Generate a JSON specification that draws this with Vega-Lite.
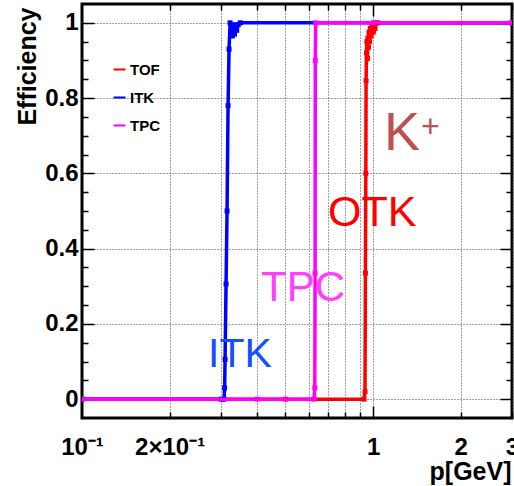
{
  "$schema": "https://vega.github.io/schema/vega-lite/v6.json",
  "autosize": {"type": "none"},
  "padding": {"left": 82, "top": 4, "right": 2, "bottom": 68},
  "width": 430,
  "height": 414,
  "config": {
    "view": {"stroke": "black", "strokeWidth": 3},
    "font": "Liberation Sans"
  },
  "datasets": {
    "tof": [
      {"det": "TOF", "p": 0.1, "eff": 0}, {"det": "TOF", "p": 0.5, "eff": 0}, {"det": "TOF", "p": 0.931, "eff": 0},
      {"det": "TOF", "p": 0.938, "eff": 0.02}, {"det": "TOF", "p": 0.941, "eff": 0.335}, {"det": "TOF", "p": 0.944, "eff": 0.6},
      {"det": "TOF", "p": 0.946, "eff": 0.846}, {"det": "TOF", "p": 0.949, "eff": 0.92}, {"det": "TOF", "p": 0.952, "eff": 0.95},
      {"det": "TOF", "p": 0.956, "eff": 0.905}, {"det": "TOF", "p": 0.96, "eff": 0.96}, {"det": "TOF", "p": 0.964, "eff": 0.935},
      {"det": "TOF", "p": 0.968, "eff": 0.975}, {"det": "TOF", "p": 0.973, "eff": 0.95}, {"det": "TOF", "p": 0.978, "eff": 0.985},
      {"det": "TOF", "p": 0.984, "eff": 0.965}, {"det": "TOF", "p": 0.99, "eff": 0.99}, {"det": "TOF", "p": 0.997, "eff": 0.975},
      {"det": "TOF", "p": 1.005, "eff": 0.995}, {"det": "TOF", "p": 1.015, "eff": 0.985}, {"det": "TOF", "p": 1.025, "eff": 1},
      {"det": "TOF", "p": 1.04, "eff": 1}, {"det": "TOF", "p": 3, "eff": 1}
    ],
    "itk": [
      {"det": "ITK", "p": 0.1, "eff": 0}, {"det": "ITK", "p": 0.3, "eff": 0}, {"det": "ITK", "p": 0.3077, "eff": 0},
      {"det": "ITK", "p": 0.309, "eff": 0.03}, {"det": "ITK", "p": 0.3101, "eff": 0.106}, {"det": "ITK", "p": 0.3125, "eff": 0.306},
      {"det": "ITK", "p": 0.315, "eff": 0.5}, {"det": "ITK", "p": 0.3175, "eff": 0.78}, {"det": "ITK", "p": 0.32, "eff": 0.93},
      {"det": "ITK", "p": 0.3226, "eff": 1.0}, {"det": "ITK", "p": 0.3245, "eff": 0.975}, {"det": "ITK", "p": 0.3265, "eff": 0.995},
      {"det": "ITK", "p": 0.3285, "eff": 0.965}, {"det": "ITK", "p": 0.331, "eff": 0.99}, {"det": "ITK", "p": 0.334, "eff": 0.97},
      {"det": "ITK", "p": 0.337, "eff": 0.995}, {"det": "ITK", "p": 0.34, "eff": 0.98}, {"det": "ITK", "p": 0.344, "eff": 0.995},
      {"det": "ITK", "p": 0.35, "eff": 1}, {"det": "ITK", "p": 3, "eff": 1}
    ],
    "tpc": [
      {"det": "TPC", "p": 0.1, "eff": 0}, {"det": "TPC", "p": 0.4, "eff": 0}, {"det": "TPC", "p": 0.627, "eff": 0},
      {"det": "TPC", "p": 0.6305, "eff": 0.03}, {"det": "TPC", "p": 0.632, "eff": 0.335}, {"det": "TPC", "p": 0.633, "eff": 0.9},
      {"det": "TPC", "p": 0.635, "eff": 1}, {"det": "TPC", "p": 1, "eff": 1}, {"det": "TPC", "p": 3, "eff": 1}
    ]
  },
  "resolve": {"axis": {"x": "independent", "y": "independent"}},
  "layer": [
    {
      "data": {"name": "tof"},
      "mark": {"type": "line", "strokeWidth": 3.5, "clip": true, "point": {"shape": "square", "filled": true, "size": 25}},
      "encoding": {
        "x": {"field": "p", "type": "quantitative",
          "scale": {"type": "log", "domain": [0.1, 3], "nice": false, "zero": false},
          "axis": {"orient": "bottom", "values": [0.1, 0.2, 1, 2, 3], "ticks": false, "grid": false, "domain": false,
            "labelExpr": "datum.value == 0.1 ? '10⁻¹' : datum.value == 0.2 ? '2×10⁻¹' : toString(datum.value)",
            "labelFlush": false, "labelOverlap": false, "labelPadding": 17, "labelBaseline": "top",
            "labelFont": "Liberation Sans", "labelFontWeight": "bold", "labelFontSize": 24, "labelColor": "black",
            "title": "p[GeV]", "titleFont": "Liberation Sans", "titleFontWeight": "bold", "titleFontSize": 25, "titleColor": "black",
            "titleAlign": "right", "titleBaseline": "alphabetic", "titleX": 429, "titleY": 61, "titleAngle": 0}},
        "y": {"field": "eff", "type": "quantitative",
          "scale": {"domain": [-0.05, 1.05], "nice": false, "zero": false},
          "axis": {"orient": "left", "values": [0, 0.2, 0.4, 0.6, 0.8, 1], "ticks": false, "grid": false, "domain": false,
            "format": ".1~f", "labelPadding": 4,
            "labelFont": "Liberation Sans", "labelFontWeight": "bold", "labelFontSize": 24, "labelColor": "black",
            "title": "Efficiency", "titleFont": "Liberation Sans", "titleFontWeight": "bold", "titleFontSize": 25, "titleColor": "black",
            "titleAngle": -90, "titleAlign": "right", "titleBaseline": "alphabetic", "titleX": -47, "titleY": 3}},
        "color": {"field": "det", "type": "nominal",
          "scale": {"domain": ["TOF", "ITK", "TPC"], "range": ["#ff0000", "#0000ff", "#ff00ff"]},
          "legend": {"orient": "none", "legendX": 30, "legendY": 58, "title": null, "padding": 0,
            "symbolType": "stroke", "symbolSize": 144, "symbolStrokeWidth": 2, "labelOffset": 3, "rowPadding": 12,
            "labelFont": "Liberation Sans", "labelFontWeight": "bold", "labelFontSize": 15, "labelColor": "black"}}
      }
    },
    {
      "data": {"name": "itk"},
      "mark": {"type": "line", "strokeWidth": 3.5, "clip": true, "point": {"shape": "square", "filled": true, "size": 25}},
      "encoding": {
        "x": {"field": "p", "type": "quantitative",
          "axis": {"orient": "bottom", "values": [0.2, 0.3, 0.4, 0.5, 0.6, 0.7, 0.8, 0.9, 1, 2, 3], "labels": false, "domain": false, "title": null,
            "tickSize": {"condition": {"test": "datum.value == 1", "value": -12}, "value": -6}, "tickColor": "black", "tickWidth": 1.5,
            "grid": true, "gridDash": [1, 2], "gridColor": "#444", "gridWidth": 1}},
        "y": {"field": "eff", "type": "quantitative",
          "axis": {"orient": "left", "values": [0, 0.05, 0.1, 0.15, 0.2, 0.25, 0.3, 0.35, 0.4, 0.45, 0.5, 0.55, 0.6, 0.65, 0.7, 0.75, 0.8, 0.85, 0.9, 0.95, 1],
            "labels": false, "domain": false, "title": null,
            "tickSize": {"condition": {"test": "datum.value == 0 || datum.value == 0.2 || datum.value == 0.4 || datum.value == 0.6 || datum.value == 0.8 || datum.value == 1", "value": -12}, "value": -6},
            "tickColor": "black", "tickWidth": 1.5,
            "grid": true, "gridDash": [1, 2], "gridColor": "#444", "gridWidth": 1,
            "gridOpacity": {"condition": {"test": "datum.value == 0 || datum.value == 0.2 || datum.value == 0.4 || datum.value == 0.6 || datum.value == 0.8 || datum.value == 1", "value": 1}, "value": 0}}},
        "color": {"field": "det", "type": "nominal"}
      }
    },
    {
      "data": {"name": "tpc"},
      "mark": {"type": "line", "strokeWidth": 3.5, "clip": true, "point": {"shape": "square", "filled": true, "size": 25}},
      "encoding": {
        "x": {"field": "p", "type": "quantitative",
          "axis": {"orient": "top", "values": [0.2, 0.3, 0.4, 0.5, 0.6, 0.7, 0.8, 0.9, 1, 2, 3], "labels": false, "domain": false, "title": null, "grid": false,
            "tickSize": {"condition": {"test": "datum.value == 1", "value": -12}, "value": -6}, "tickColor": "black", "tickWidth": 1.5}},
        "y": {"field": "eff", "type": "quantitative",
          "axis": {"orient": "right", "values": [0, 0.05, 0.1, 0.15, 0.2, 0.25, 0.3, 0.35, 0.4, 0.45, 0.5, 0.55, 0.6, 0.65, 0.7, 0.75, 0.8, 0.85, 0.9, 0.95, 1],
            "labels": false, "domain": false, "title": null, "grid": false,
            "tickSize": {"condition": {"test": "datum.value == 0 || datum.value == 0.2 || datum.value == 0.4 || datum.value == 0.6 || datum.value == 0.8 || datum.value == 1", "value": -12}, "value": -6},
            "tickColor": "black", "tickWidth": 1.5}},
        "color": {"field": "det", "type": "nominal"}
      }
    },
    {
      "data": {"values": [{"p": 1.091, "eff": 0.662, "label": "K"}]},
      "mark": {"type": "text", "align": "left", "baseline": "alphabetic", "fontSize": 54, "font": "Liberation Sans", "color": "#c05050"},
      "encoding": {"x": {"field": "p", "type": "quantitative", "axis": null}, "y": {"field": "eff", "type": "quantitative", "axis": null}, "text": {"field": "label"}}
    },
    {
      "data": {"values": [{"p": 1.462, "eff": 0.697, "label": "+"}]},
      "mark": {"type": "text", "align": "left", "baseline": "alphabetic", "fontSize": 32, "font": "Liberation Sans", "color": "#c05050"},
      "encoding": {"x": {"field": "p", "type": "quantitative", "axis": null}, "y": {"field": "eff", "type": "quantitative", "axis": null}, "text": {"field": "label"}}
    },
    {
      "data": {"values": [{"p": 0.7004, "eff": 0.46, "label": "OTK"}]},
      "mark": {"type": "text", "align": "left", "baseline": "alphabetic", "fontSize": 43, "font": "Liberation Sans", "color": "#ff0000"},
      "encoding": {"x": {"field": "p", "type": "quantitative", "axis": null}, "y": {"field": "eff", "type": "quantitative", "axis": null}, "text": {"field": "label"}}
    },
    {
      "data": {"values": [{"p": 0.4122, "eff": 0.2606, "label": "TPC"}]},
      "mark": {"type": "text", "align": "left", "baseline": "alphabetic", "fontSize": 42, "font": "Liberation Sans", "color": "#ff40ff"},
      "encoding": {"x": {"field": "p", "type": "quantitative", "axis": null}, "y": {"field": "eff", "type": "quantitative", "axis": null}, "text": {"field": "label"}}
    },
    {
      "data": {"values": [{"p": 0.271, "eff": 0.0851, "label": "ITK"}]},
      "mark": {"type": "text", "align": "left", "baseline": "alphabetic", "fontSize": 41, "font": "Liberation Sans", "color": "#1450ff"},
      "encoding": {"x": {"field": "p", "type": "quantitative", "axis": null}, "y": {"field": "eff", "type": "quantitative", "axis": null}, "text": {"field": "label"}}
    }
  ]
}
